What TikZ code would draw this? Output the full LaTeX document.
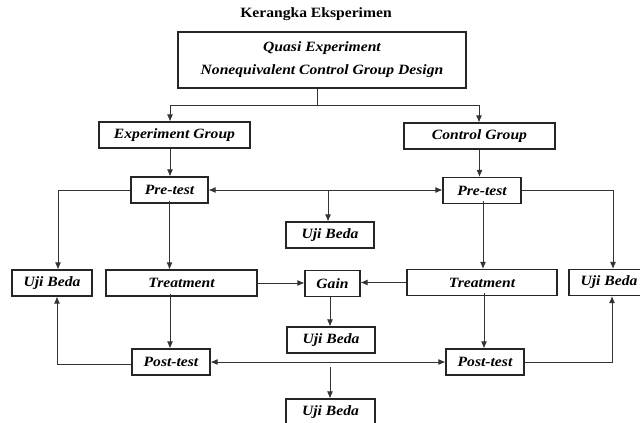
\documentclass[tikz,border=0pt]{standalone}
\usepackage{fontspec}
\setmainfont{Liberation Serif}[FakeStretch=1.1]
\usetikzlibrary{arrows.meta}
\begin{document}
\begin{tikzpicture}[x=1pt,y=-1pt,
  box/.style={draw=black!85, line width=1.1pt, rectangle, inner sep=0pt,
    font=\fontsize{14.2}{16}\selectfont\bfseries\itshape},
  conn/.style={draw=black!80, line width=0.9pt},
  arr/.style={conn, -{Latex[length=7pt,width=6pt]}},
  darr/.style={conn, {Latex[length=7pt,width=6pt]}-{Latex[length=7pt,width=6pt]}}]
\useasboundingbox (0,0) rectangle (640,423);
\clip (0,0) rectangle (640,423);
\node[font=\fontsize{14.2}{16}\selectfont\bfseries] (title) at (316,14) {Kerangka Eksperimen};
\node[box, minimum width=288pt, minimum height=56pt, align=center,
  font=\fontsize{14.2}{23}\selectfont\bfseries\itshape] (top) at (322,60)
  {Quasi Experiment\\Nonequivalent Control Group Design};
\node[box, minimum width=151pt, minimum height=26pt] (eg) at (174.5,135) {Experiment Group};
\node[box, minimum width=151pt, minimum height=26pt] (cg) at (479.5,136) {Control Group};
\node[box, minimum width=77pt, minimum height=26pt] (pre1) at (169.5,190) {Pre-test};
\node[box, minimum width=78pt, minimum height=26pt] (pre2) at (482,190.5) {Pre-test};
\node[box, minimum width=88pt, minimum height=26pt] (ujiM) at (330,235) {Uji Beda};
\node[box, minimum width=80pt, minimum height=26pt] (uji1) at (52,283) {Uji Beda};
\node[box, minimum width=151pt, minimum height=26pt] (tr1) at (181.5,283) {Treatment};
\node[box, minimum width=55pt, minimum height=26pt] (gain) at (332.5,283.5) {Gain};
\node[box, minimum width=150pt, minimum height=26pt] (tr2) at (482,282.5) {Treatment};
\node[box, minimum width=80pt, minimum height=26pt] (uji2) at (609,282.5) {Uji Beda};
\node[box, minimum width=88pt, minimum height=26pt] (ujiM2) at (331,340) {Uji Beda};
\node[box, minimum width=78pt, minimum height=26pt] (post1) at (171,362) {Post-test};
\node[box, minimum width=78pt, minimum height=26pt] (post2) at (485,362) {Post-test};
\node[box, minimum width=89pt, minimum height=26pt] (ujiB) at (330.5,412) {Uji Beda};
% connectors
\coordinate (jm) at (317,105);
\coordinate (jL) at (170,105);
\coordinate (jR) at (479,105);
\draw[conn] (top.south -| jm) -- (jm);
\draw[conn] (jL) -- (jR);
\draw[arr] (jL) -- (jL |- eg.north);
\draw[arr] (jR) -- (jR |- cg.north);
\draw[arr] ([xshift=-4.5pt]eg.south) -- ([xshift=-4.5pt]eg.south |- pre1.north);
\draw[arr] (cg.south) -- (cg.south |- pre2.north);
\draw[darr] (pre1.east) -- (pre1.east -| pre2.west);
\coordinate (jU) at (328,190);
\draw[arr] (jU) -- (jU |- ujiM.north);
\draw[arr] (pre1.west) -| ([xshift=6pt]uji1.north);
\draw[arr] ([yshift=3pt]pre1.south) -- (pre1.south |- tr1.north);
\draw[arr] (pre2.east) -| ([xshift=4pt]uji2.north);
\draw[arr] ([xshift=1pt,yshift=3pt]pre2.south) -- ([xshift=1pt]pre2.south |- tr2.north);
\draw[arr] (tr1.east) -- (tr1.east -| gain.west);
\draw[arr] (tr2.west) -- (tr2.west -| gain.east);
\draw[arr] ([xshift=-2.5pt]gain.south) -- ([xshift=-2.5pt]gain.south |- ujiM2.north);
\draw[arr] ([xshift=-11.5pt,yshift=3pt]tr1.south) -- ([xshift=-11.5pt]tr1.south |- post1.north);
\draw[arr] ([xshift=2pt,yshift=3pt]tr2.south) -- ([xshift=2pt]tr2.south |- post2.north);
\draw[arr] ([yshift=-2pt]post1.west) -| ([xshift=5pt]uji1.south);
\draw[darr] (post1.east) -- (post1.east -| post2.west);
\draw[arr] (post2.east) -| ([xshift=3pt]uji2.south);
\coordinate (jB) at (330,367);
\draw[arr] (jB) -- (jB |- ujiB.north);
\end{tikzpicture}
\end{document}
